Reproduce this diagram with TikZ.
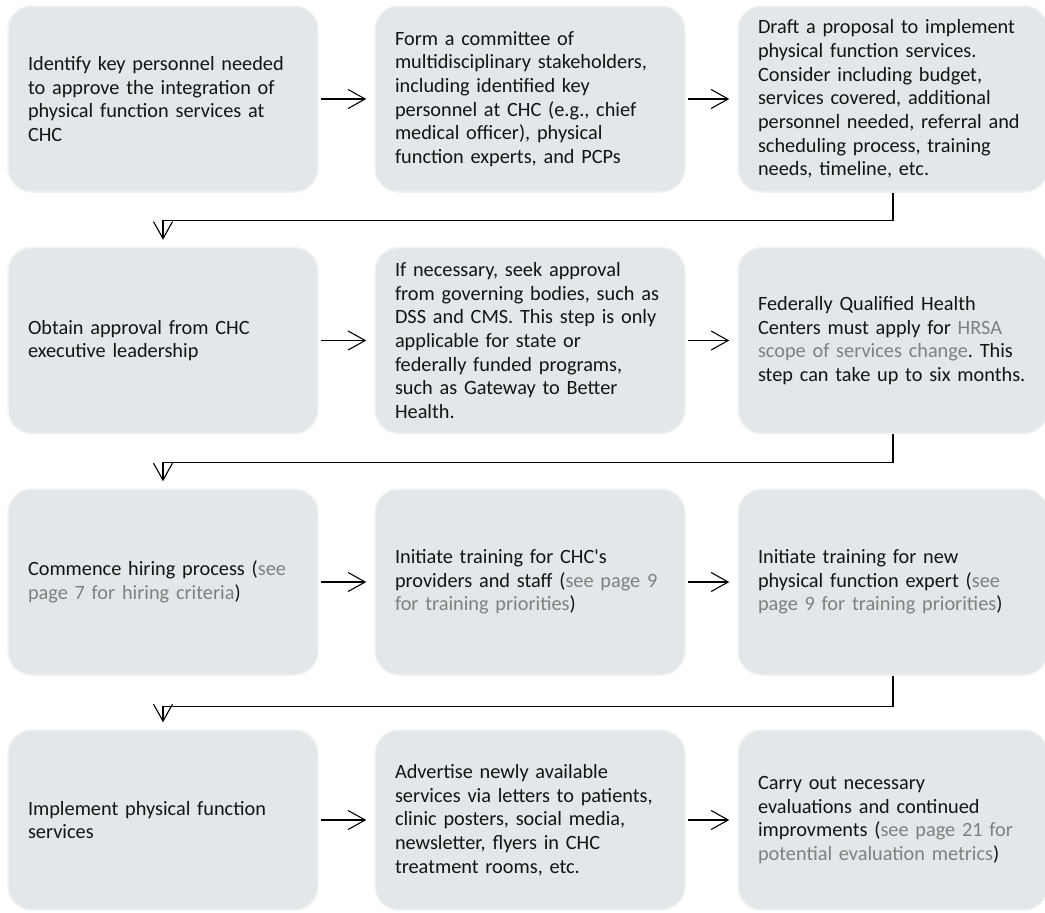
\documentclass[tikz,border=0pt]{standalone}
\usepackage{fontspec}
\newfontfamily\boxfont{Carlito}
\usetikzlibrary{arrows.meta}

\definecolor{boxfill}{RGB}{226,231,234}
\definecolor{boxedge}{RGB}{240,242,243}
\definecolor{linkgray}{RGB}{128,128,128}
\newcommand{\seelink}[1]{\textcolor{linkgray}{#1}}

\tikzset{
    stepbox/.style={rectangle, rounded corners=24pt, fill=boxfill, draw=boxedge, line width=1.5pt,
        text width=270pt, align=left, inner xsep=20pt, inner ysep=4pt, minimum height=186pt,
        font=\boxfont\fontsize{20.3}{23.7}\selectfont\frenchspacing, text=black!92},
    flow/.style={-{Straight Barb[length=17pt,width=19pt]}, line width=1.1pt, black}
}

\begin{document}
\begin{tikzpicture}[x=1pt,y=1pt]
    \useasboundingbox (0,0) rectangle (1045,-913);

    % row 1
    \node[stepbox] (identify) at (163,-99) {Identify key personnel needed\\to approve the integration of\\physical function services at\\CHC};
    \node[stepbox] (committee) at (530,-99) {Form a committee of\\multidisciplinary stakeholders,\\including identified key\\personnel at CHC (e.g., chief\\medical officer), physical\\function experts, and PCPs};
    \node[stepbox] (proposal) at (893,-99) {Draft a proposal to implement\\physical function services.\\Consider including budget,\\services covered, additional\\personnel needed, referral and\\scheduling process, training\\needs, timeline, etc.};

    % row 2
    \node[stepbox] (approval) at (163,-340.5) {Obtain approval from CHC\\executive leadership};
    \node[stepbox] (governing) at (530,-340.5) {If necessary, seek approval\\from governing bodies, such as\\DSS and CMS. This step is only\\applicable for state or\\federally funded programs,\\such as Gateway to Better\\Health.};
    \node[stepbox] (hrsa) at (893,-340.5) {Federally Qualified Health\\Centers must apply for \seelink{HRSA}\\\seelink{scope of services change}. This\\step can take up to six months.};

    % row 3
    \node[stepbox] (hiring) at (163,-582) {Commence hiring process (\seelink{see}\\\seelink{page 7 for hiring criteria})};
    \node[stepbox] (trainstaff) at (530,-582) {Initiate training for CHC's\\providers and staff (\seelink{see page 9}\\\seelink{for training priorities})};
    \node[stepbox] (trainexpert) at (893,-582) {Initiate training for new\\physical function expert (\seelink{see}\\\seelink{page 9 for training priorities})};

    % row 4
    \node[stepbox, minimum height=180pt] (implement) at (163,-820) {Implement physical function\\services};
    \node[stepbox, minimum height=180pt] (advertise) at (530,-820) {Advertise newly available\\services via letters to patients,\\clinic posters, social media,\\newsletter, flyers in CHC\\treatment rooms, etc.};
    \node[stepbox, minimum height=180pt] (evaluate) at (893,-820) {Carry out necessary\\evaluations and continued\\improvments (\seelink{see page 21 for}\\\seelink{potential evaluation metrics})};

    % arrows within rows
    \draw[flow, shorten <=2pt, shorten >=8pt] (identify) -- (committee);
    \draw[flow, shorten <=2pt, shorten >=8pt] (committee) -- (proposal);
    \draw[flow, shorten <=2pt, shorten >=8pt] (approval) -- (governing);
    \draw[flow, shorten <=2pt, shorten >=8pt] (governing) -- (hrsa);
    \draw[flow, shorten <=2pt, shorten >=8pt] (hiring) -- (trainstaff);
    \draw[flow, shorten <=2pt, shorten >=8pt] (trainstaff) -- (trainexpert);
    \draw[flow, shorten <=2pt, shorten >=8pt] (implement) -- (advertise);
    \draw[flow, shorten <=2pt, shorten >=8pt] (advertise) -- (evaluate);

    % arrows between rows
    \draw[flow, shorten >=7pt] (proposal.south) -- ++(0,-28) -| (approval.north);
    \draw[flow, shorten >=7pt] (hrsa.south) -- ++(0,-28.5) -| (hiring.north);
    \draw[flow, shorten >=7pt] (trainexpert.south) -- ++(0,-31) -| (implement.north);
\end{tikzpicture}
\end{document}
